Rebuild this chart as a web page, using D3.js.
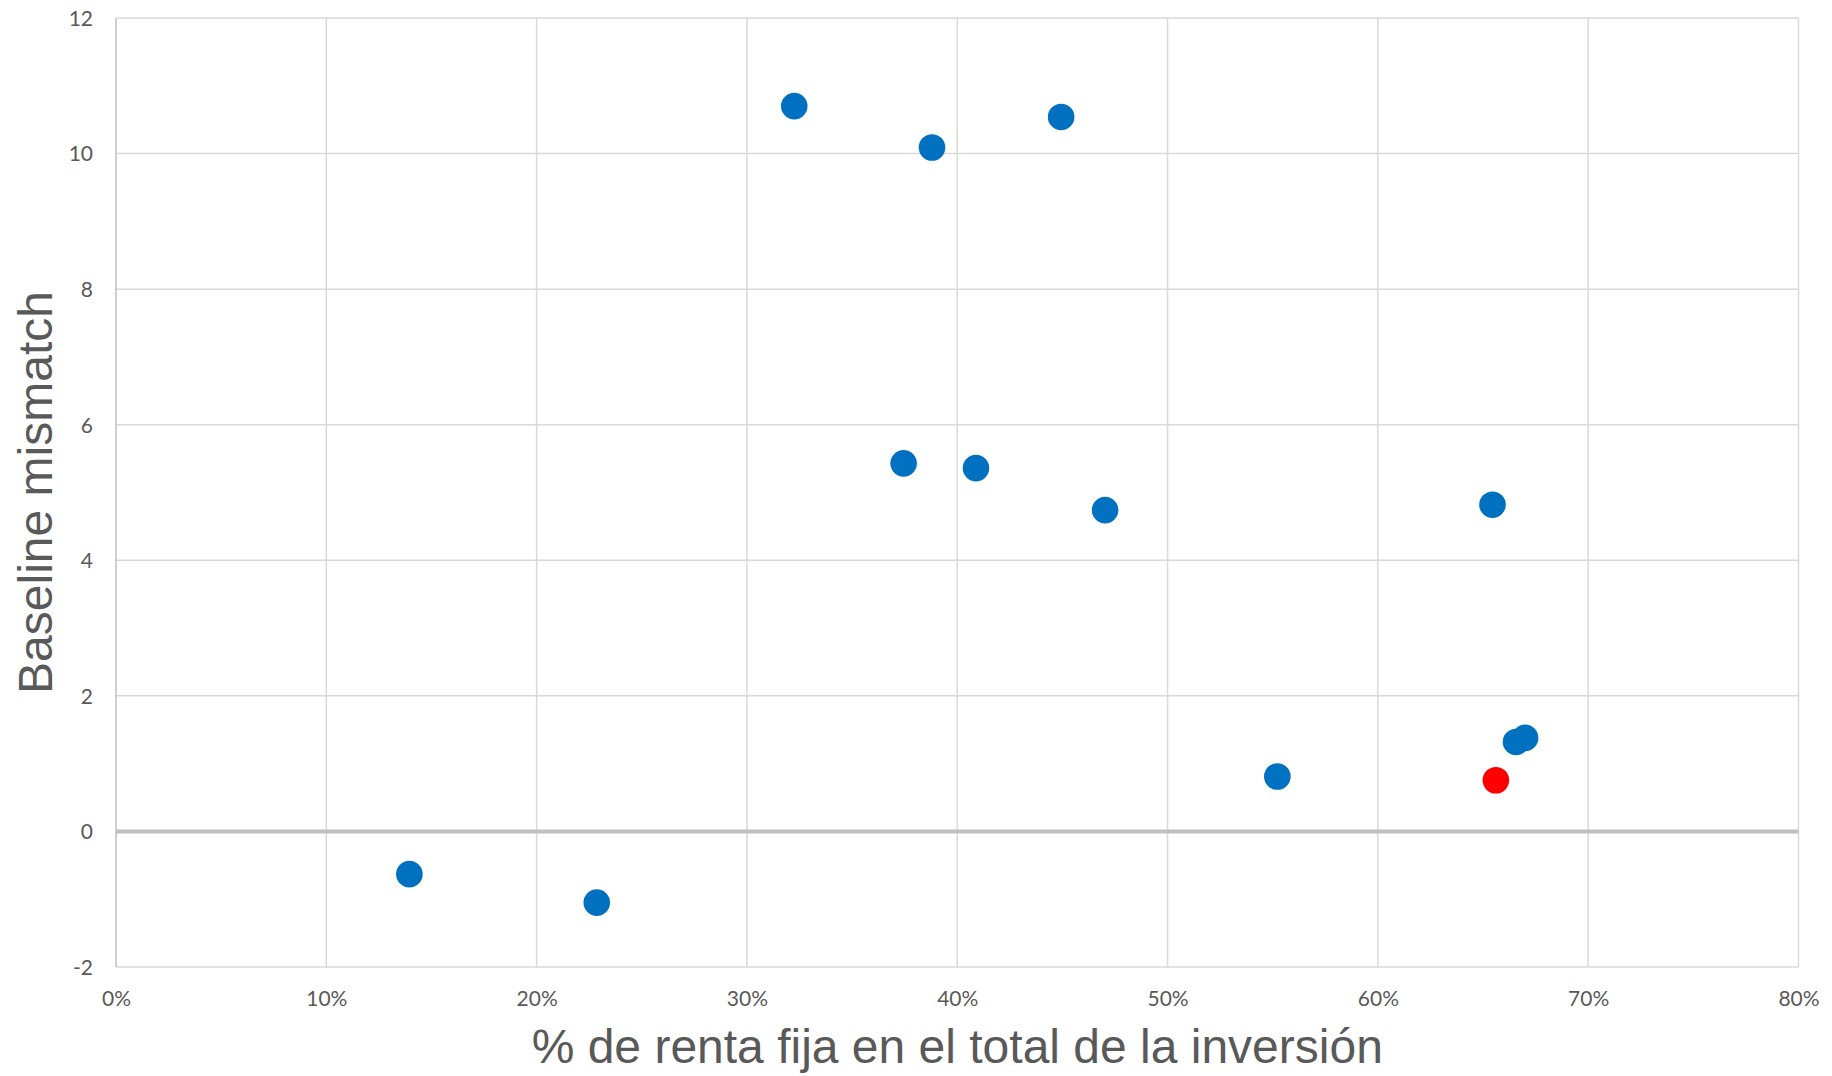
<!DOCTYPE html>
<meta charset="utf-8">
<style>
body { margin: 0; background: #fff; }
.tick text { font-family: Lato, "Open Sans", sans-serif; font-size: 21px; fill: #595959; }
.title { font-family: "Liberation Sans", Arial, sans-serif; font-size: 48px; fill: #595959; }
</style>
<svg width="1832" height="1076"></svg>
<script src="https://d3js.org/d3.v7.min.js"></script>
<script>

// blue series: % renta fija vs baseline mismatch
var blueX = [13.95, 22.86, 32.25, 38.8, 44.94, 37.45, 40.89, 47.03, 65.45, 55.22, 66.57, 67.0];
var blueY = [-0.63, -1.05, 10.7, 10.09, 10.54, 5.43, 5.36, 4.74, 4.82, 0.81, 1.32, 1.38];
// highlighted point
var redX = [65.61];
var redY = [0.755];

var xTicks = [0, 10, 20, 30, 40, 50, 60, 70, 80];
var yTicks = [-2, 0, 2, 4, 6, 8, 10, 12];

var svg = d3.select("svg"),
    margin = {top: 18, right: 33.5, bottom: 109, left: 116},
    width = +svg.attr("width") - margin.left - margin.right,
    height = +svg.attr("height") - margin.top - margin.bottom;

var x = d3.scaleLinear().domain([0, 80]).range([0, width]),
    y = d3.scaleLinear().domain([-2, 12]).range([height, 0]);

var g = svg.append("g")
    .attr("transform", "translate(" + margin.left + "," + margin.top + ")");

// grid
g.append("g").selectAll("line")
  .data(yTicks)
  .enter().append("line")
    .attr("x1", 0).attr("x2", width)
    .attr("y1", function(d) { return y(d); })
    .attr("y2", function(d) { return y(d); })
    .attr("stroke", "#d9d9d9").attr("stroke-width", 1.5);

g.append("g").selectAll("line")
  .data(xTicks.slice(1))
  .enter().append("line")
    .attr("y1", 0).attr("y2", height)
    .attr("x1", function(d) { return x(d); })
    .attr("x2", function(d) { return x(d); })
    .attr("stroke", "#d9d9d9").attr("stroke-width", 1.5);

// zero line
g.append("line")
    .attr("x1", 0).attr("x2", width)
    .attr("y1", y(0)).attr("y2", y(0))
    .attr("stroke", "#bfbfbf").attr("stroke-width", 4);

// left axis line
g.append("line")
    .attr("x1", 0).attr("x2", 0)
    .attr("y1", 0).attr("y2", height)
    .attr("stroke", "#bfbfbf").attr("stroke-width", 1.5);

// axes (labels only)
var xAxis = g.append("g")
    .attr("transform", "translate(0," + height + ")")
    .call(d3.axisBottom(x).tickValues(xTicks).tickSize(0).tickPadding(24)
      .tickFormat(function(d) { return d + "%"; }));
xAxis.select(".domain").remove();

var yAxis = g.append("g")
    .call(d3.axisLeft(y).tickValues(yTicks).tickSize(0).tickPadding(23)
      .tickFormat(function(d) { return String(d); }));
yAxis.select(".domain").remove();
yAxis.selectAll("text").attr("dy", "0.35em");

// points
var blue = blueX.map(function(v, i) { return {x: v, y: blueY[i]}; });
var red = redX.map(function(v, i) { return {x: v, y: redY[i]}; });

g.selectAll(".dot-blue")
  .data(blue)
  .enter().append("circle")
    .attr("class", "dot-blue")
    .attr("cx", function(d) { return x(d.x); })
    .attr("cy", function(d) { return y(d.y); })
    .attr("r", 13.3)
    .attr("fill", "#0070c0");

g.selectAll(".dot-red")
  .data(red)
  .enter().append("circle")
    .attr("class", "dot-red")
    .attr("cx", function(d) { return x(d.x); })
    .attr("cy", function(d) { return y(d.y); })
    .attr("r", 13.3)
    .attr("fill", "#ff0000");

// titles
svg.append("text")
    .attr("class", "title")
    .attr("x", margin.left + width / 2)
    .attr("y", 1063)
    .attr("text-anchor", "middle")
    .text("% de renta fija en el total de la inversión");

svg.append("text")
    .attr("class", "title")
    .attr("transform", "translate(52," + (margin.top + height / 2) + ") rotate(-90)")
    .attr("text-anchor", "middle")
    .text("Baseline mismatch");

</script>
